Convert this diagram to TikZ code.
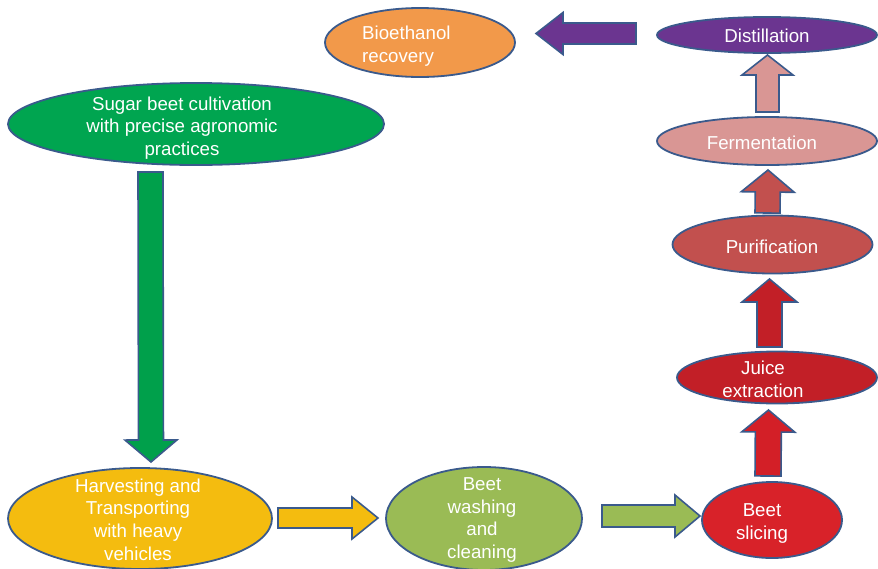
\documentclass[tikz,border=0pt]{standalone}
\usepackage{fontspec}
\setmainfont{Liberation Sans}
\usetikzlibrary{shapes.geometric,calc}

\definecolor{edge}{HTML}{3A5A8C}
\definecolor{cOrange}{HTML}{F2994A}
\definecolor{cPurple}{HTML}{6B3590}
\definecolor{cPink}{HTML}{D99694}
\definecolor{cRose}{HTML}{C2504E}
\definecolor{cCrimson}{HTML}{C21F27}
\definecolor{cRed}{HTML}{D82229}
\definecolor{cGreen}{HTML}{00A550}
\definecolor{cGreenArrow}{HTML}{00A04B}
\definecolor{cGold}{HTML}{F4BC0F}
\definecolor{cOlive}{HTML}{9ABB55}
\definecolor{cRedArrow}{HTML}{D31F27}

\tikzset{
  stage/.style={ellipse, draw=edge, line width=1.8pt, inner sep=0pt},
  stagetext/.style={text=white, align=center, inner sep=0pt,
    font=\fontsize{18.7}{22.7}\selectfont},
  arrowbody/.style={draw=edge, line width=1.6pt, line join=miter},
}

% Block arrow: #1 tail, #2 tip, #3 fill, #4 name of the head base,
% #5 half shaft width, #6 half head width, #7 head length
\newcommand\fatarrow[7]{%
  \path ($(#2)!#7!(#1)$) coordinate (#4);
  \draw[arrowbody, fill=#3]
    ($(#1)!#5!90:(#2)$) -- ($(#4)!#5!90:(#2)$) -- ($(#4)!#6!90:(#2)$)
    -- (#2)
    -- ($(#4)!#6!-90:(#2)$) -- ($(#4)!#5!-90:(#2)$) -- ($(#1)!#5!-90:(#2)$)
    -- cycle;}

\begin{document}
\begin{tikzpicture}[x=1pt,y=-1pt]
\useasboundingbox (0,0) rectangle (878,568);

% stages
\node[stage, fill=cGreen, minimum width=376pt, minimum height=82pt] (sugar) at (196,124) {};
\node[stagetext] (sugar-t) at (182,128) {Sugar beet cultivation\\with precise agronomic\\practices};

\node[stage, fill=cGold, minimum width=264pt, minimum height=101pt] (harvest) at (140,518.5) {};
\node[stagetext] (harvest-t) at (138,519.5) {Harvesting and\\Transporting\\with heavy\\vehicles};

\node[stage, fill=cOlive, minimum width=196pt, minimum height=103pt] (wash) at (484,518.5) {};
\node[stagetext] (wash-t) at (482,520) {Beet\\washing\\and\\cleaning};

\node[stage, fill=cRed, minimum width=140pt, minimum height=76pt] (slice) at (772,520) {};
\node[stagetext] (slice-t) at (762,523.5) {Beet\\slicing};

\node[stage, fill=cCrimson, minimum width=200pt, minimum height=52pt] (juice) at (777,377.5) {};
\node[stagetext] (juice-t) at (763,379.5) {Juice\\extraction};

\node[stage, fill=cRose, minimum width=200pt, minimum height=58pt] (purif) at (772.5,244.5) {};
\node[stagetext] (purif-t) at (772,247) {Purification};

\node[stage, fill=cPink, minimum width=220pt, minimum height=48pt] (ferm) at (767,141) {};
\node[stagetext] (ferm-t) at (762,142.5) {Fermentation};

\node[stage, fill=cPurple, minimum width=220pt, minimum height=36pt] (dist) at (767,35) {};
\node[stagetext] (dist-t) at (767,36) {Distillation};

\node[stage, fill=cOrange, minimum width=190pt, minimum height=69pt] (bio) at (420,42.5) {};
\node[stagetext, align=left, anchor=west] (bio-t) at (362,46.5) {Bioethanol\\recovery};

% arrow ends
\coordinate (a1t) at (150.5,172);   \coordinate (a1h) at (151,462);
\coordinate (a2t) at (278,518);     \coordinate (a2h) at (378,518);
\coordinate (a3t) at (602,516);     \coordinate (a3h) at (700,516);
\coordinate (a4t) at (768,476);     \coordinate (a4h) at (768.5,410);
\coordinate (a5t) at (769.5,347);   \coordinate (a5h) at (769.5,279);
\coordinate (a6t) at (767.5,213);   \coordinate (a6h) at (768,170);
\coordinate (a7t) at (767.5,112);   \coordinate (a7h) at (767.5,55);
\coordinate (a8t) at (636,33.5);    \coordinate (a8h) at (536,33.5);

% flow arrows
\fatarrow{a1t}{a1h}{cGreenArrow}{a1b}{12.5pt}{26pt}{22pt}
\fatarrow{a2t}{a2h}{cGold}{a2b}{10pt}{21pt}{26pt}
\fatarrow{a3t}{a3h}{cOlive}{a3b}{11pt}{21pt}{25pt}
\fatarrow{a4t}{a4h}{cRedArrow}{a4b}{13pt}{26.5pt}{22pt}
\fatarrow{a5t}{a5h}{cCrimson}{a5b}{12.5pt}{27.5pt}{23pt}
\fatarrow{a6t}{a6h}{cRose}{a6b}{12.5pt}{26.5pt}{22pt}
\fatarrow{a7t}{a7h}{cPink}{a7b}{11.5pt}{25.5pt}{20pt}
\fatarrow{a8t}{a8h}{cPurple}{a8b}{10.5pt}{21pt}{27pt}
\end{tikzpicture}
\end{document}
